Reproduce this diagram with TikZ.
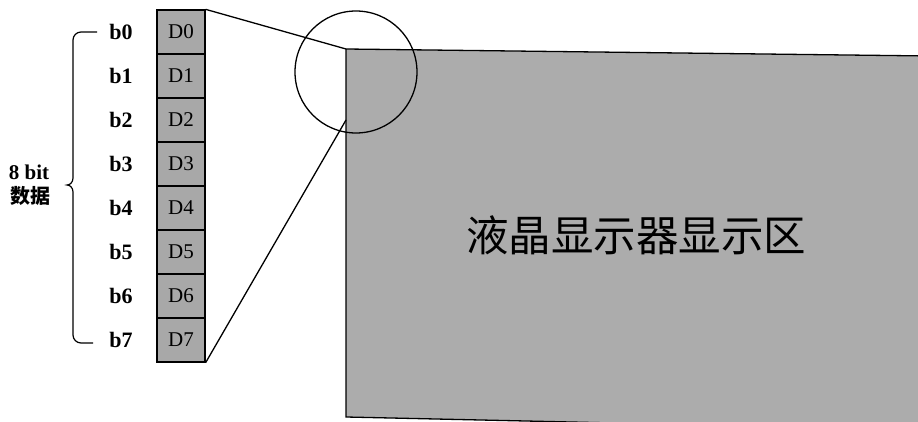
\documentclass[tikz,border=0pt]{standalone}
\usepackage{fontspec}
\setmainfont{Liberation Serif}
\newfontfamily\cjk{Noto Sans CJK SC}
\definecolor{panelgray}{RGB}{172,172,172}
\definecolor{cellgray}{RGB}{168,168,168}
\begin{document}
\begin{tikzpicture}[x=1pt,y=-1pt,
  line width=1.3pt,
  cellbox/.style={draw, fill=cellgray, minimum width=48pt, minimum height=44pt, inner sep=0pt, font=\fontsize{21}{21}\selectfont},
  bitlabel/.style={font=\fontsize{22}{22}\selectfont\bfseries, inner sep=0pt},
  lcdtext/.style={font=\cjk\fontsize{42.5}{42.5}\selectfont, inner sep=0pt}]
\useasboundingbox (0,0) rectangle (918,422);
% LCD panel
\begin{scope}
\clip (0,0) rectangle (918,422);
\filldraw[fill=panelgray] (346,49) coordinate (lcdtl) -- (930,56) -- (930,430) -- (346,417) -- cycle;
\end{scope}
\coordinate (lcdedge) at (346,120);
\node[lcdtext] (lcdlabel) at (636,235) {液晶显示器显示区};
% cells
\foreach \i in {0,...,7} {
  \node[cellbox] (d\i) at (181,{32+44*\i}) {D\i};
  \node[bitlabel] (b\i) at (121,{32+44*\i}) {b\i};
}
% connector lines
\draw (d0.north east) -- (lcdtl);
\draw (d7.south east) -- (lcdedge);
% circle
\node[draw, circle, minimum size=122pt, inner sep=0pt] (zoomcircle) at (356,72) {};
% brace
\draw[line width=1.2pt] (97,32) -- (81,32) to[out=180,in=90] (73,40) -- (73,178)
  to[out=-90,in=0] (67,185) to[out=0,in=90] (73,192) -- (73,335)
  to[out=-90,in=180] (81,343) -- (93,343);
\node[font=\fontsize{21}{21}\selectfont\bfseries, inner sep=0pt] (eightbit) at (29,172) {8 bit};
\node[font=\cjk\fontsize{20}{20}\selectfont\bfseries, inner sep=0pt] (shuju) at (30,196) {数据};
\end{tikzpicture}
\end{document}
